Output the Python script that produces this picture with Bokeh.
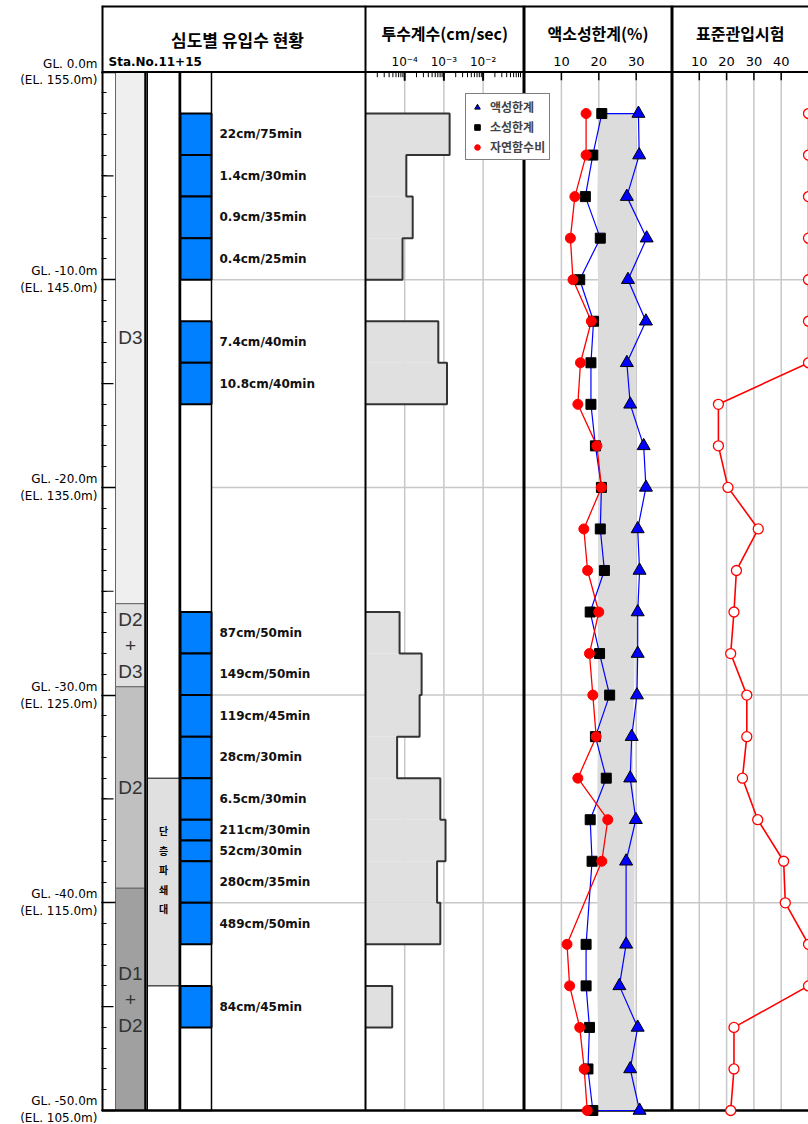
from bokeh.plotting import figure
from bokeh.models import Range1d, LogScale, FixedTicker, Legend, LegendItem
from bokeh.core.properties import value
from bokeh.embed import file_html
from bokeh.resources import INLINE

# ---------------- data ----------------
gl_depths = [0, 10, 20, 30, 40, 50]
gl_labels = ["GL. 0.0m\n(EL. 155.0m)", "GL. -10.0m\n(EL. 145.0m)", "GL. -20.0m\n(EL. 135.0m)",
             "GL. -30.0m\n(EL. 125.0m)", "GL. -40.0m\n(EL. 115.0m)", "GL. -50.0m\n(EL. 105.0m)"]

geo_names = ["D3", "D2\n+\nD3", "D2", "D1\n+\nD2"]
geo_top = [0.0, 25.6, 29.6, 39.3]
geo_bot = [25.6, 29.6, 39.3, 50.0]
geo_colors = ["#efefef", "#e0e0e0", "#c0c0c0", "#a0a0a0"]

fault_name = "단층파쇄대"
fault_top = 34.0
fault_bot = 44.0

flow_top = [2, 4, 6, 8, 12, 14, 26, 28, 30, 32, 34, 36, 37, 38, 40, 44]
flow_bot = [4, 6, 8, 10, 14, 16, 28, 30, 32, 34, 36, 37, 38, 40, 42, 46]
flow_labels = ["22cm/75min", "1.4cm/30min", "0.9cm/35min", "0.4cm/25min", "7.4cm/40min",
               "10.8cm/40min", "87cm/50min", "149cm/50min", "119cm/45min", "28cm/30min",
               "6.5cm/30min", "211cm/30min", "52cm/30min", "280cm/35min", "489cm/50min",
               "84cm/45min"]

k_top = [2, 4, 6, 8, 12, 14, 26, 28, 30, 32, 34, 36, 38, 40, 44]
k_bot = [4, 6, 8, 10, 14, 16, 28, 30, 32, 34, 36, 38, 40, 42, 46]
k_vals = [1.4e-3, 1.1e-4, 1.6e-4, 8.8e-5, 7.2e-4, 1.2e-3, 7.4e-5, 2.7e-4, 2.4e-4,
          6.4e-5, 8.1e-4, 1.1e-3, 6.7e-4, 8.1e-4, 4.8e-5]
k_ticks = [1e-4, 1e-3, 1e-2]
k_tick_labels = ["10⁻⁴", "10⁻³", "10⁻²"]

at_depth = [2, 4, 6, 8, 10, 12, 14, 16, 18, 20, 22, 24, 26, 28, 30, 32, 34, 36, 38,
            42, 44, 46, 48, 50]
ll_vals = [30.6, 30.8, 27.5, 32.8, 27.8, 32.6, 27.5, 28.4, 32.0, 32.6, 30.4, 30.9, 30.4,
           30.4, 30.2, 28.8, 28.4, 29.9, 27.3, 27.3, 25.5, 30.4, 28.4, 30.9]
pl_vals = [20.8, 18.4, 16.4, 20.4, 14.9, 18.6, 17.9, 17.9, 19.1, 20.7, 20.4, 21.5, 17.7,
           20.2, 22.9, 19.1, 22.0, 17.7, 18.2, 16.6, 16.6, 17.5, 17.1, 18.4]
wn_vals = [16.6, 16.6, 13.6, 12.4, 13.1, 18.0, 15.1, 14.4, 19.5, 20.7, 16.0, 17.0, 20.0,
           17.5, 18.4, 19.3, 14.4, 22.4, 20.8, 11.5, 12.2, 14.9, 16.1, 16.9]
band_lo = [20.2, 19.8, 19.6, 19.6, 19.8, 20.0, 19.8, 19.8, 19.8, 19.8, 19.8, 19.8, 19.8,
           19.8, 19.8, 19.8, 19.6, 19.6, 19.6, 19.6, 19.6, 19.8, 19.8, 19.8]
band_hi = [30.4, 29.8, 29.6, 29.8, 29.8, 29.8, 29.8, 29.8, 29.8, 30.0, 29.8, 29.8, 29.8,
           29.6, 29.4, 29.0, 29.2, 29.6, 29.6, 29.4, 29.4, 29.6, 29.6, 29.8]
ll_ticks = [10, 20, 30]

spt_depth = [2, 4, 6, 8, 10, 12, 14, 16, 18, 20, 22, 24, 26, 28, 30, 32, 34, 36, 38, 40,
             42, 44, 46, 48, 50]
spt_vals = [50, 50, 50, 50, 50, 50, 50, 17, 17, 20.5, 31.6, 23.6, 22.7, 21.5, 27.4, 27.4,
            25.8, 31.4, 40.9, 41.5, 50, 50, 22.7, 22.7, 21.5]
spt_ticks = [10, 20, 30, 40]

titles = ["심도별 유입수 현황", "투수계수(cm/sec)", "액소성한계(%)", "표준관입시험"]
station = "Sta.No.11+15"
legend_names = ["액성한계", "소성한계", "자연함수비"]

# ---------------- layout constants (pixels inside frame) ----------------
FW = 707                 # frame width (x 101..808)
P1 = 264.0               # panel 1 right edge
P2 = 422.5               # panel 2 right edge / LL zero
P3 = 570.5               # panel 3 right edge / SPT zero
DEC = 39.2               # px per decade
LLPX = 3.74              # px per % in panel 3
PXM = (1110 - 71.5) / 50.0
TOP = -(71.5 - 5) / PXM
BOT = 50 + 14 / PXM
KMIN = 1e-5

KOR = value("Noto Sans CJK KR")
LAT = value("DejaVu Sans")

p = figure(width=808, height=1124, x_range=Range1d(0, FW), y_range=Range1d(BOT, TOP),
           output_backend="svg", toolbar_location=None, x_axis_location=None,
           y_axis_location="left", min_border_left=101, min_border_right=0,
           min_border_top=5, min_border_bottom=0)
p.title.visible = False
p.grid.visible = False
p.outline_line_color = None
p.background_fill_color = "white"

p.extra_x_ranges = {
    "k": Range1d(10 ** (-5 - P1 / DEC), 10 ** (-5 + (FW - P1) / DEC)),
    "ll": Range1d(-P2 / LLPX, (FW - P2) / LLPX),
    "n": Range1d(-P3 * 50 / (FW - P3), 50),
}
p.extra_x_scales = {"k": LogScale()}

# left depth axis
ax = p.yaxis[0]
ax.ticker = FixedTicker(ticks=gl_depths, minor_ticks=list(range(0, 51)))
ax.major_label_overrides = {d: s for d, s in zip(gl_depths, gl_labels)}
ax.major_tick_in = 14
ax.major_tick_out = 0
ax.minor_tick_in = 5
ax.minor_tick_out = 0
ax.axis_line_color = None
ax.major_tick_line_width = 1.5
ax.major_label_text_font = "DejaVu Sans"
ax.major_label_text_font_size = "12px"
ax.major_label_text_color = "black"
ax.major_label_standoff = 4

# 5 m ticks
five = [5, 15, 25, 35, 45]
p.segment(x0=[0] * 5, x1=[12] * 5, y0=five, y1=five, line_color="black", line_width=1.2)

# ---------------- grid lines ----------------
hg = [10, 20, 30, 40]
p.segment(x0=[46] * 4, x1=[FW] * 4, y0=hg, y1=hg, line_color="#c8c8c8", line_width=1.5)
p.segment(x0=k_ticks, x1=k_ticks, y0=[0] * 3, y1=[50] * 3, line_color="#c8c8c8",
          line_width=1.5, x_range_name="k")
p.segment(x0=ll_ticks, x1=ll_ticks, y0=[0] * 3, y1=[50] * 3, line_color="#c8c8c8",
          line_width=1.5, x_range_name="ll")
p.segment(x0=spt_ticks, x1=spt_ticks, y0=[0] * 4, y1=[50] * 4, line_color="#c8c8c8",
          line_width=1.5, x_range_name="n")

# ---------------- panel 1 ----------------
p.quad(left=14, right=44, top=geo_top, bottom=geo_bot, fill_color=geo_colors,
       line_color="#666666", line_width=1)
p.segment(x0=[44], x1=[44], y0=[0], y1=[50], line_color="black", line_width=2.5)
p.text(x=[29] * 4, y=[(a + b) / 2 for a, b in zip(geo_top, geo_bot)], text=geo_names,
       text_font=value("Liberation Sans"), text_font_size=value("19px"), text_color="#333333",
       text_align="center", text_baseline="middle", text_line_height=1.25)

p.quad(left=[46], right=[78], top=[0], bottom=[50], fill_color="white", line_color="black",
       line_width=1)
p.quad(left=[46], right=[78], top=[fault_top], bottom=[fault_bot], fill_color="#e0e0e0",
       line_color="black", line_width=1)
p.segment(x0=[78], x1=[78], y0=[0], y1=[50], line_color="black", line_width=2)
p.text(x=[62], y=[(fault_top + fault_bot) / 2 - 0.6], text=["\n".join(fault_name)],
       text_font=KOR, text_font_size=value("10px"), text_font_style="bold",
       text_align="center", text_baseline="middle", text_line_height=1.3)

p.quad(left=[79], right=[110], top=[0], bottom=[50], fill_color="white", line_color="black",
       line_width=1.5)
p.quad(left=79, right=110, top=flow_top, bottom=flow_bot, fill_color="#0080ff",
       line_color="black", line_width=2)
p.text(x=[118] * len(flow_labels), y=[(a + b) / 2 for a, b in zip(flow_top, flow_bot)],
       text=flow_labels, text_font=LAT, text_font_size=value("12px"), text_font_style="bold",
       text_align="left", text_baseline="middle", text_color="#111111")

# ---------------- panel 2: permeability ----------------
p.quad(left=KMIN, right=k_vals, top=k_top, bottom=k_bot, fill_color="#e0e0e0",
       line_color=None, x_range_name="k")
xs_all, ys_all = [], []
groups = []
for t, b, v in zip(k_top, k_bot, k_vals):
    if groups and abs(groups[-1][-1][1] - t) < 1e-9:
        groups[-1].append((t, b, v))
    else:
        groups.append([(t, b, v)])
for g in groups:
    xs, ys = [KMIN], [g[0][0]]
    for t, b, v in g:
        xs += [v, v]
        ys += [t, b]
    xs.append(KMIN)
    ys.append(g[-1][1])
    xs_all.append(xs)
    ys_all.append(ys)
p.multi_line(xs=xs_all, ys=ys_all, line_color="#333333", line_width=2, x_range_name="k")

# ---------------- frame lines ----------------
p.segment(x0=[0], x1=[FW], y0=[0], y1=[0], line_color="black", line_width=2)
p.segment(x0=[0], x1=[FW], y0=[TOP], y1=[TOP], line_color="black", line_width=4)
p.segment(x0=[0], x1=[FW], y0=[50], y1=[50], line_color="black", line_width=2.5)
p.segment(x0=[0], x1=[0], y0=[TOP], y1=[50], line_color="black", line_width=4)
p.segment(x0=[P1, P2, P3], x1=[P1, P2, P3], y0=[TOP] * 3, y1=[50] * 3, line_color="black",
          line_width=[2, 3, 3])

# ---------------- panel 3: Atterberg limits ----------------
p.patch(x=band_lo + band_hi[::-1], y=at_depth + at_depth[::-1], fill_color="#dcdcdc",
        line_color=None, x_range_name="ll")
p.line(x=pl_vals + ll_vals[::-1] + [pl_vals[0]], y=at_depth + at_depth[::-1] + [at_depth[0]],
       line_color="#0000ff", line_width=1.2, x_range_name="ll")
p.line(x=wn_vals, y=at_depth, line_color="#ff0000", line_width=1.3, x_range_name="ll")
r_ll = p.scatter(x=ll_vals, y=at_depth, marker="triangle", size=13, fill_color="#0000ff",
                 line_color="black", line_width=1, x_range_name="ll")
r_pl = p.scatter(x=pl_vals, y=at_depth, marker="square", size=10, fill_color="black",
                 line_color="black", x_range_name="ll")
r_wn = p.scatter(x=wn_vals, y=at_depth, marker="circle", size=10, fill_color="#ff0000",
                 line_color="#ff0000", x_range_name="ll")

# ---------------- panel 4: SPT ----------------
p.line(x=spt_vals, y=spt_depth, line_color="#ff0000", line_width=1.6, x_range_name="n")
p.scatter(x=spt_vals, y=spt_depth, marker="circle", size=10, fill_color="white",
          line_color="#ff0000", line_width=1.3, x_range_name="n")

# top ticks
p.segment(x0=k_ticks, x1=k_ticks, y0=[0] * 3, y1=[0.42] * 3, line_color="black",
          line_width=2, x_range_name="k")
k_minor = [m * 10.0 ** e for e in (-5, -4, -3, -2) for m in range(2, 10)]
p.segment(x0=k_minor, x1=k_minor, y0=[0] * len(k_minor), y1=[0.25] * len(k_minor),
          line_color="black", line_width=1, x_range_name="k")
p.segment(x0=ll_ticks, x1=ll_ticks, y0=[0] * 3, y1=[0.4] * 3, line_color="black",
          line_width=1.5, x_range_name="ll")
p.segment(x0=spt_ticks, x1=spt_ticks, y0=[0] * 4, y1=[0.4] * 4, line_color="black",
          line_width=1.5, x_range_name="n")

# titles
p.text(x=[136], y=[-1.55], text=[titles[0]], text_font=KOR, text_font_size=value("17px"),
       text_font_style="bold", text_align="center", text_baseline="middle")
p.text(x=[7], y=[-0.48], text=[station], text_font=LAT, text_font_size=value("12px"),
       text_font_style="bold", text_align="left", text_baseline="middle")
p.text(x=[(P1 + P2) / 2], y=[-1.9], text=[titles[1]], text_font=KOR,
       text_font_size=value("16px"), text_font_style="bold", text_align="center",
       text_baseline="middle")
p.text(x=[(P2 + P3) / 2], y=[-1.9], text=[titles[2]], text_font=KOR,
       text_font_size=value("16px"), text_font_style="bold", text_align="center",
       text_baseline="middle")
p.text(x=[(P3 + FW) / 2], y=[-1.9], text=[titles[3]], text_font=KOR,
       text_font_size=value("16px"), text_font_style="bold", text_align="center",
       text_baseline="middle")

# tick labels
p.text(x=k_ticks, y=[-0.5] * 3, text=k_tick_labels, text_font=LAT, text_font_size=value("12px"),
       text_align="center", text_baseline="middle", x_range_name="k")
p.text(x=ll_ticks, y=[-0.5] * 3, text=[str(t) for t in ll_ticks], text_font=LAT,
       text_font_size=value("13px"), text_align="center", text_baseline="middle",
       x_range_name="ll")
p.text(x=spt_ticks, y=[-0.5] * 4, text=[str(t) for t in spt_ticks], text_font=LAT,
       text_font_size=value("13px"), text_align="center", text_baseline="middle",
       x_range_name="n")

# legend
legend = Legend(items=[LegendItem(label=legend_names[0], renderers=[r_ll]),
                       LegendItem(label=legend_names[1], renderers=[r_pl]),
                       LegendItem(label=legend_names[2], renderers=[r_wn])],
                location=(364, 1124 - 5 - 155 + 5 - 5), orientation="vertical")
legend.border_line_color = "black"
legend.border_line_width = 1.5
legend.background_fill_color = "white"
legend.background_fill_alpha = 1
legend.label_text_font = "Noto Sans CJK KR"
legend.label_text_font_style = "bold"
legend.label_text_font_size = "12px"
legend.glyph_width = 14
legend.glyph_height = 14
legend.label_height = 14
legend.label_standoff = 6
legend.spacing = 3
legend.padding = 4
legend.margin = 0
p.add_layout(legend)

open("out.html", "w").write(file_html(p, INLINE))
